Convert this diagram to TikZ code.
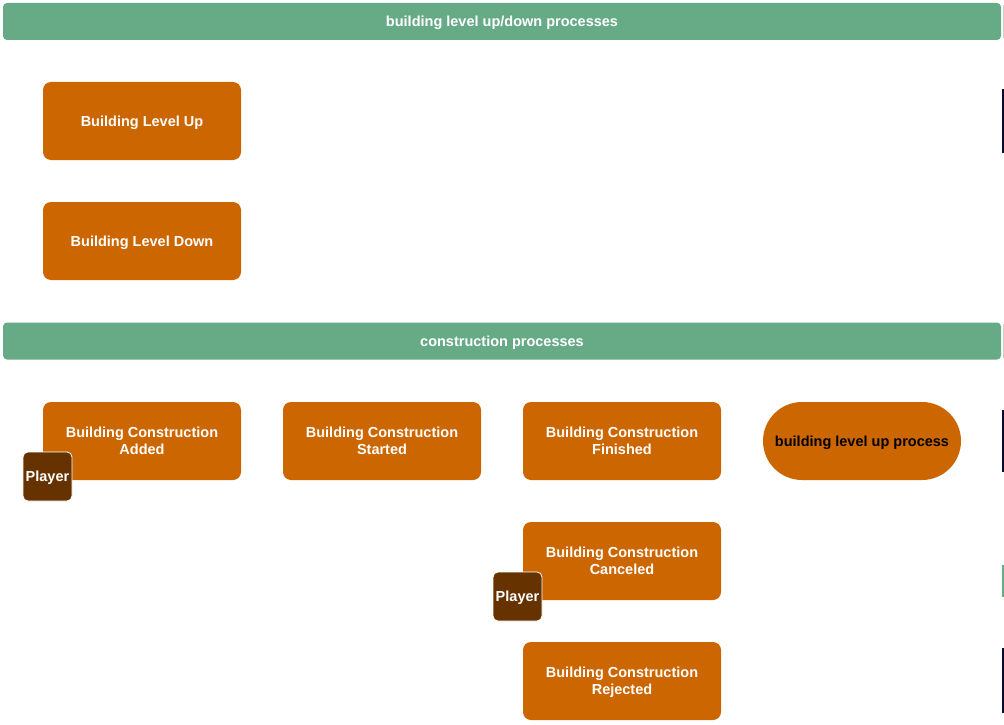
\documentclass[tikz,border=0pt]{standalone}
\usepackage{fontspec}
\setmainfont{Liberation Sans}
\definecolor{hdrgreen}{HTML}{67AB86}
\definecolor{evorange}{HTML}{CC6600}
\definecolor{actorbrown}{HTML}{663300}
\definecolor{edgenavy}{HTML}{0A0A33}
\begin{document}
\begin{tikzpicture}[x=1pt,y=-1pt,
		header/.style={fill=hdrgreen, rounded corners=4pt, minimum width=998pt, minimum height=37pt, inner sep=0pt, text depth=0pt, text=white, font=\bfseries\fontsize{14.5}{17}\selectfont},
		event/.style={fill=evorange, rounded corners=8pt, minimum width=198pt, minimum height=78pt, inner sep=0pt, text depth=0pt, text=white, align=center, font=\bfseries\fontsize{14.5}{17}\selectfont},
		process/.style={event, rounded corners=39pt, text=black},
		actor/.style={fill=actorbrown, draw=white, line width=0.8pt, rounded corners=5pt, minimum size=49pt, inner sep=0pt, text depth=0pt, text=white, font=\bfseries\fontsize{14.5}{17}\selectfont}]
	\useasboundingbox (0,0) rectangle (1004,725);
	\node[header] (levelhdr) at (502,21.5) {building level up/down processes};
	\node[event] (levelup) at (142,121) {Building Level Up};
	\node[event] (leveldown) at (142,241) {Building Level Down};
	\node[header] (constrhdr) at (502,341) {construction processes};
	\node[event] (added) at (142,441) {Building Construction\\Added};
	\node[event] (started) at (382,441) {Building Construction\\Started};
	\node[event] (finished) at (622,441) {Building Construction\\Finished};
	\node[process] (lvlproc) at (862,441) {building level up process};
	\node[event] (canceled) at (622,561) {Building Construction\\Canceled};
	\node[event] (rejected) at (622,681) {Building Construction\\Rejected};
	\node[actor] (addplayer) at (47.5,476.5) {Player};
	\node[actor] (cancelplayer) at (517.5,596.5) {Player};
	\draw[gray!40, line width=0.8pt] (1003,5) -- (1003,38);
	\draw[gray!40, line width=0.8pt] (1003,324) -- (1003,358);
	\draw[edgenavy, line width=2pt] (1003,89) -- (1003,153);
	\draw[edgenavy, line width=2pt] (1003,410) -- (1003,472);
	\draw[hdrgreen, line width=2pt] (1003,565) -- (1003,597);
	\draw[edgenavy, line width=2pt] (1003,648) -- (1003,713);
\end{tikzpicture}
\end{document}
